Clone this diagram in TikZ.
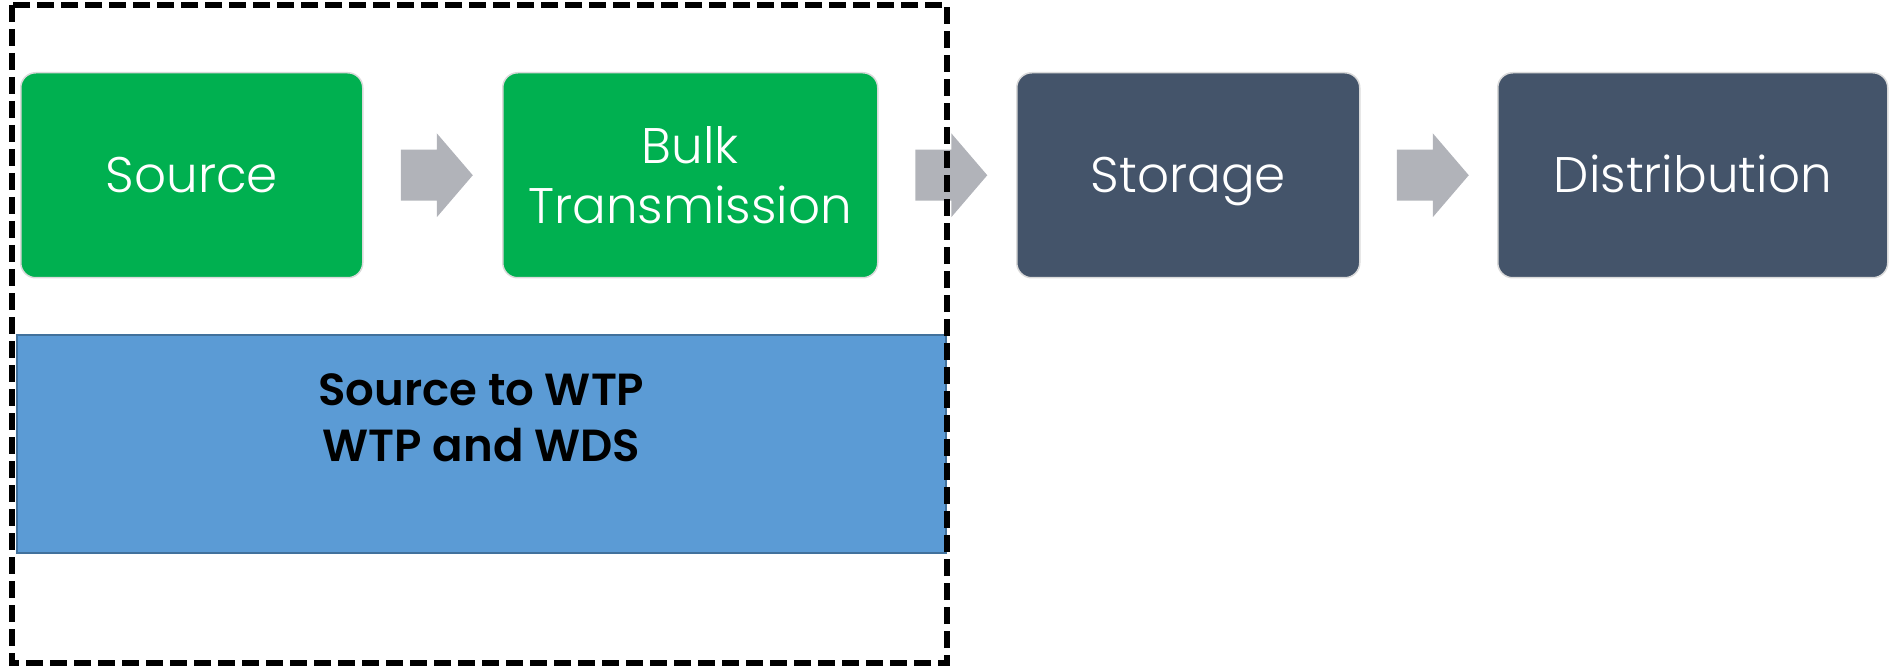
\documentclass[tikz,border=0pt]{standalone}
\usepackage{fontspec}
\setmainfont{Poppins}
\newfontfamily\boxfont{Poppins Light}
\newfontfamily\bandfont{Poppins SemiBold}
\usetikzlibrary{calc}

\definecolor{stagegreen}{HTML}{00B050}
\definecolor{stageslate}{HTML}{44546A}
\definecolor{stageedge}{HTML}{DADADA}
\definecolor{arrowgray}{HTML}{B1B3B9}
\definecolor{bandfill}{HTML}{5B9BD5}
\definecolor{bandedge}{HTML}{41719C}

\tikzset{
  stagebox/.style={draw=stageedge, line width=0.75pt, rounded corners=7.5pt,
    minimum height=102.5pt, anchor=north west, inner sep=0pt,
    text=white, align=center,
    font=\boxfont\fontsize{25}{30}\selectfont},
  oneline/.style={text height=17.5pt, text depth=0pt},
  greenbox/.style={stagebox, fill=stagegreen},
  slatebox/.style={stagebox, fill=stageslate},
  flowarrow/.style={fill=arrowgray},
  band/.style={fill=bandfill, draw=bandedge, line width=0.9pt,
    anchor=north west, inner sep=0pt, minimum height=109pt, minimum width=464.5pt},
  bandtext/.style={align=center, text=black, inner sep=0pt,
    font=\bandfont\fontsize{22.5}{28}\selectfont},
  scopeframe/.style={draw=black, line width=2.6pt, dash pattern=on 8.5pt off 3.5pt}
}

% block arrow placed in the gap between two stages
\newcommand\gaparrow[2]{%
  \coordinate (#1-#2) at ($(#1.east)!0.5!(#2.west)+(2,0)$);
  \fill[flowarrow, shift={(#1-#2)}]
    (-34,-25.5) -- (2,-25.5) -- (2,-42) -- (38,0) -- (2,42) -- (2,25.5)
    -- (-34,25.5) -- cycle;}

\begin{document}
\begin{tikzpicture}[x=0.5pt, y=-0.5pt]
\useasboundingbox (0,0) rectangle (1889,668);

% stages
\node[greenbox, oneline, minimum width=171pt] (src) at (20,72) {Source};
\node[greenbox, minimum width=187.5pt] (bulk) at (502,72) {Bulk\\Transmission};
\node[slatebox, oneline, minimum width=171.5pt] (stor) at (1016,72) {Storage};
\node[slatebox, oneline, minimum width=195pt] (dist) at (1497,72) {Distribution};

% arrows between stages
\gaparrow{src}{bulk}
\gaparrow{bulk}{stor}
\gaparrow{stor}{dist}

% band under the first two stages
\node[band] (band) at (16,334) {};
\node[bandtext, anchor=north] (bandlbl) at ($(band.north)+(0,39)$)
  {Source to WTP\\WTP and WDS};

% dashed frame around the first two stages
\draw[scopeframe] (12,5) rectangle (947,663);
\end{tikzpicture}
\end{document}
